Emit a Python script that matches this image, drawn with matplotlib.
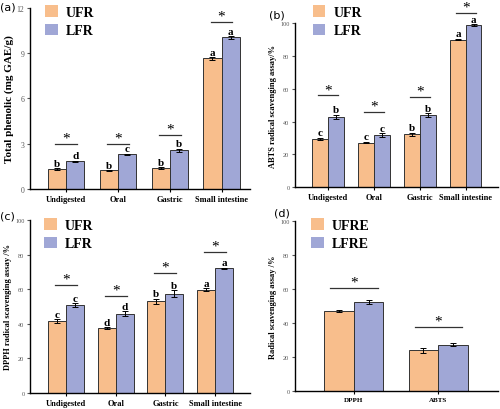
import numpy as np
import matplotlib
matplotlib.use('Agg')
import matplotlib.pyplot as plt
from matplotlib.patches import Patch

plt.rcParams['font.family'] = 'Liberation Serif'

# (a) total phenolic
stages = ['Undigested', 'Oral', 'Gastric', 'Small intestine']
a_ufr = [1.30, 1.22, 1.40, 8.65]
a_ufr_err = [0.05, 0.04, 0.06, 0.08]
a_lfr = [1.82, 2.30, 2.55, 10.05]
a_lfr_err = [0.06, 0.04, 0.12, 0.08]
a_ufr_let = ['b', 'b', 'b', 'a']
a_lfr_let = ['d', 'c', 'b', 'a']
a_sig = [3.0, 3.0, 3.6, 11.05]

# (b) ABTS
b_ufr = [29.5, 27.2, 32.3, 90.0]
b_ufr_err = [0.5, 0.5, 0.8, 0.5]
b_lfr = [43.0, 31.8, 44.0, 99.0]
b_lfr_err = [1.2, 1.0, 1.0, 0.5]
b_ufr_let = ['c', 'c', 'b', 'a']
b_lfr_let = ['b', 'c', 'b', 'a']
b_sig = [56, 46, 55, 106.5]

# (c) DPPH
c_ufr = [41.5, 37.5, 53.0, 59.8]
c_ufr_err = [1.0, 0.5, 1.5, 0.7]
c_lfr = [51.0, 45.8, 57.5, 72.0]
c_lfr_err = [1.0, 1.5, 2.0, 0.5]
c_ufr_let = ['c', 'd', 'b', 'a']
c_lfr_let = ['c', 'd', 'b', 'a']
c_sig = [62.4, 56.2, 69.4, 81.7]

# (d) extracts
assays = ['DPPH', 'ABTS']
d_ufre = [46.8, 23.8]
d_ufre_err = [0.5, 1.2]
d_lfre = [52.3, 27.3]
d_lfre_err = [1.2, 1.0]
d_sig = [60.4, 37.5]

orange = '#F8BE8C'
blue = '#A0A7D6'
edge = '#333333'


def panel(ax, cats, v1, e1, v2, e2, l1, l2, sig, width, sig_half, let_off, star_off,
          ylim, yticks, ylabel, ylab_size, tick_size, xlim):
    x = np.arange(len(cats))
    ax.bar(x - width / 2, v1, width, color=orange, edgecolor=edge, linewidth=0.7,
           yerr=e1, error_kw=dict(ecolor='black', elinewidth=0.7, capsize=2.5, capthick=0.7))
    ax.bar(x + width / 2, v2, width, color=blue, edgecolor=edge, linewidth=0.7,
           yerr=e2, error_kw=dict(ecolor='black', elinewidth=0.7, capsize=2.5, capthick=0.7))
    if l1 is not None:
        for i in range(len(cats)):
            ax.text(x[i] - width / 2, v1[i] + e1[i] + let_off, l1[i], ha='center', va='bottom',
                    fontsize=8, fontweight='bold')
            ax.text(x[i] + width / 2, v2[i] + e2[i] + let_off, l2[i], ha='center', va='bottom',
                    fontsize=8, fontweight='bold')
    for i in range(len(cats)):
        ax.plot([x[i] - sig_half, x[i] + sig_half], [sig[i], sig[i]], color='#333333',
                lw=0.9, clip_on=False)
        ax.text(x[i], sig[i] + star_off, '*', ha='center', va='center', fontsize=11,
                clip_on=False)
    ax.set_xlim(xlim)
    ax.set_ylim(ylim)
    ax.set_yticks(yticks)
    ax.set_xticks(x)
    ax.set_xticklabels(cats, fontsize=6, fontweight='bold')
    ax.tick_params(axis='y', labelsize=tick_size, length=2.5, width=0.8, colors='#555555',
                   labelcolor='#555555', pad=1.5)
    ax.tick_params(axis='x', length=2.5, width=0.8, pad=2)
    ax.set_ylabel(ylabel, fontsize=ylab_size, fontweight='bold', labelpad=2)
    for s in ['top', 'right']:
        ax.spines[s].set_visible(False)
    for s in ['left', 'bottom']:
        ax.spines[s].set_linewidth(1.0)


fig = plt.figure(figsize=(5, 4.1), dpi=100)

ax_a = fig.add_axes([0.06, 0.537, 0.44, 0.441])
ax_b = fig.add_axes([0.59, 0.541, 0.406, 0.40])
ax_c = fig.add_axes([0.06, 0.039, 0.44, 0.422])
ax_d = fig.add_axes([0.59, 0.044, 0.406, 0.415])

panel(ax_a, stages, a_ufr, a_ufr_err, a_lfr, a_lfr_err, a_ufr_let, a_lfr_let, a_sig,
      0.35, 0.21, 0.02, 0.4, (0, 12), [0, 3, 6, 9, 12], 'Total phenolic (mg GAE/g)', 8, 5.5,
      (-0.7, 3.55))
panel(ax_b, stages, b_ufr, b_ufr_err, b_lfr, b_lfr_err, b_ufr_let, b_lfr_let, b_sig,
      0.34, 0.22, 0.3, 3.5, (0, 100), range(0, 101, 20), 'ABTS radical scavenging assay/%',
      6, 4.5, (-0.72, 3.7))
panel(ax_c, stages, c_ufr, c_ufr_err, c_lfr, c_lfr_err, c_ufr_let, c_lfr_let, c_sig,
      0.36, 0.22, 0.3, 3.5, (0, 100), range(0, 101, 20), 'DPPH radical scavenging assay /%',
      6, 4.5, (-0.72, 3.7))
panel(ax_d, assays, d_ufre, d_ufre_err, d_lfre, d_lfre_err, None, None, d_sig,
      0.35, 0.28, 0, 3.5, (0, 100), range(0, 101, 20), 'Radical scavenging assay /%',
      6, 4.5, (-0.70, 1.71))
ax_d.set_xticklabels(assays, fontsize=5, fontweight='bold')

for ax, names, pos in [(ax_a, ['UFR', 'LFR'], (0.09, 0.985)),
                       (ax_b, ['UFR', 'LFR'], (0.625, 0.985)),
                       (ax_c, ['UFR', 'LFR'], (0.088, 0.465)),
                       (ax_d, ['UFRE', 'LFRE'], (0.622, 0.465))]:
    handles = [Patch(facecolor=orange, edgecolor='none'), Patch(facecolor=blue, edgecolor='none')]
    fig.legend(handles, names, loc='upper left', bbox_to_anchor=pos, frameon=False,
               prop=dict(family='Liberation Serif', weight='bold', size=10),
               handlelength=0.9, handleheight=0.9, handletextpad=0.6, labelspacing=0.35,
               borderpad=0, borderaxespad=0)

for label, px, py in [('(a)', 0.0, 0.995), ('(b)', 0.538, 0.975),
                      ('(c)', 0.0, 0.485), ('(d)', 0.548, 0.492)]:
    fig.text(px, py, label, fontsize=8, family='DejaVu Sans', va='top')

fig.savefig('out.png', dpi=100)
